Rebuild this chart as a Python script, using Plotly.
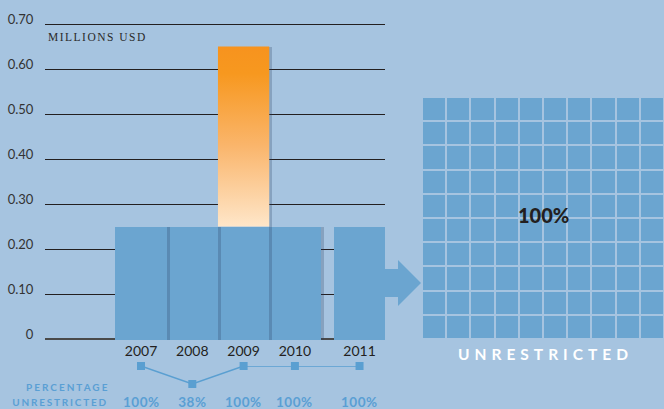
import plotly.graph_objects as go

# ---------------- data ----------------
years = ["2007", "2008", "2009", "2010", "2011"]
base_funding = [0.25, 0.25, 0.25, 0.25, 0.25]          # millions USD (blue)
extra_funding = [0.0, 0.0, 0.40, 0.0, 0.0]            # millions USD (orange, stacked)
pct_unrestricted = [100, 38, 100, 100, 100]
y_tick_vals = [0, 0.1, 0.2, 0.3, 0.4, 0.5, 0.6, 0.7]
y_tick_text = ["0", "0.10", "0.20", "0.30", "0.40", "0.50", "0.60", "0.70"]
grid_label = "UNRESTRICTED"

# ---------------- style / layout constants ----------------
W, H = 664, 409
BG = "#a6c4e0"
BLUE = "#6ba5d0"
LINE_BLUE = "#5a9fd1"
DARK = "#231f20"
GAP_LAST = 0.26      # extra spacing before last year
BAR_W = 1.0
SHADOW_W = 0.06
Y_PAD = 0.01
PX_PER_UNIT = 450.0

def px_x(p):
    return p / W

def px_y(p):
    return 1 - p / H

n = len(years)
xpos = [i + (GAP_LAST if i == n - 1 else 0) for i in range(n)]
totals = [b + e for b, e in zip(base_funding, extra_funding)]

fig = go.Figure()

# blue bars
fig.add_trace(go.Bar(
    x=xpos, y=base_funding, width=BAR_W, marker=dict(color=BLUE, line=dict(width=0)),
    hoverinfo="skip", showlegend=False,
))

# orange stacked segments with gradient (built from the data)
for xp, b, e in zip(xpos, base_funding, extra_funding):
    if e > 0:
        l, r = xp - BAR_W / 2, xp + BAR_W / 2
        fig.add_trace(go.Scatter(
            x=[l, r, r, l, l], y=[b, b, b + e, b + e, b],
            mode="lines", line=dict(width=0), fill="toself",
            fillgradient=dict(type="vertical",
                              colorscale=[[0, "#fee6c9"], [0.45, "#fab56b"], [0.85, "#f7981f"], [1, "#f7931e"]]),
            hoverinfo="skip", showlegend=False,
        ))

# drop shadows on right edge
shadow_colors = ["rgba(40,60,90,0.25)"] * (n - 1) + ["rgba(0,0,0,0)"]
fig.add_trace(go.Bar(
    x=xpos, y=totals, width=SHADOW_W, offset=BAR_W / 2,
    marker=dict(color=shadow_colors, line=dict(width=0)),
    hoverinfo="skip", showlegend=False,
))

# percentage unrestricted line
fig.add_trace(go.Scatter(
    x=xpos, y=pct_unrestricted, xaxis="x", yaxis="y2",
    mode="lines+markers", line=dict(color=LINE_BLUE, width=1.5),
    marker=dict(symbol="square", size=8, color=LINE_BLUE),
    cliponaxis=False, hoverinfo="skip", showlegend=False,
))

# 10x10 grid of unrestricted share (from last year's percentage)
cells_filled = pct_unrestricted[-1]
z = [[1 if (r * 10 + c) < cells_filled else 0 for c in range(10)] for r in range(10)]
fig.add_trace(go.Heatmap(
    z=z, xaxis="x3", yaxis="y3", colorscale=[[0, BG], [1, BLUE]], zmin=0, zmax=1,
    xgap=2, ygap=2, showscale=False, hoverinfo="skip",
))

annotations = []
# percent labels
for xp, p in zip(xpos, pct_unrestricted):
    annotations.append(dict(
        x=xp, y=px_y(402), xref="x", yref="paper", text=f"{p}%", showarrow=False,
        font=dict(family="Lato", size=13.5, color="#5a9fd4", weight="bold"),
        xanchor="center", yanchor="middle",
    ))
annotations.append(dict(
    x=px_x(102), y=px_y(387), xref="paper", yref="paper", text="PERCENTAGE", showarrow=False,
    font=dict(family="Lato", size=10, color="#5a9fd4", weight="bold"),
    xanchor="right", yanchor="middle",
))
annotations.append(dict(
    x=px_x(100), y=px_y(402), xref="paper", yref="paper", text="UNRESTRICTED", showarrow=False,
    font=dict(family="Lato", size=10, color="#5a9fd4", weight="bold"),
    xanchor="right", yanchor="middle",
))
annotations.append(dict(
    x=px_x(55), y=px_y(37), xref="paper", yref="paper", text="MILLIONS USD", showarrow=False,
    font=dict(family="Liberation Serif", size=11.5, color="#2a2a2a"),
    xanchor="left", yanchor="middle",
))
annotations.append(dict(
    x=4.5, y=4.5, xref="x3", yref="y3", text=f"{cells_filled}%", showarrow=False,
    font=dict(family="Lato", size=20, color=DARK, weight=900),
    xanchor="center", yanchor="middle", yshift=3,
))
annotations.append(dict(
    x=4.5, y=px_y(354), xref="x3", yref="paper", text=grid_label, showarrow=False,
    font=dict(family="Lato", size=15.5, color="white", weight="bold"),
    xanchor="center", yanchor="middle", xshift=2,
))

# arrow from bars to grid
pts = [(385, 269), (398, 269), (398, 260), (421, 283), (398, 306), (398, 297), (385, 297)]
path = "M " + " L ".join(f"{px_x(a):.5f},{px_y(b):.5f}" for a, b in pts) + " Z"
shapes = [dict(type="path", path=path, xref="paper", yref="paper",
               fillcolor=BLUE, line=dict(width=0), layer="above")]

x_unit = 51.3
x0 = -(141 - 45) / x_unit
x1 = x0 + (385 - 45) / x_unit

y_bottom_px = 339 + Y_PAD * PX_PER_UNIT
y_top_px = 24 - Y_PAD * PX_PER_UNIT

fig.update_layout(
    width=W, height=H, autosize=False,
    margin=dict(l=0, r=0, t=0, b=0, pad=0, autoexpand=False),
    paper_bgcolor=BG, plot_bgcolor="rgba(0,0,0,0)",
    barmode="overlay", bargap=0,
    showlegend=False,
    font=dict(family="Lato", color=DARK),
    xaxis=dict(domain=[px_x(45), px_x(385)], range=[x0, x1], automargin=False,
               tickvals=xpos, ticktext=years, showgrid=False, zeroline=False, showline=False,
               ticks="", ticklabelstandoff=-3,
               tickfont=dict(family="Lato", size=14, color=DARK), fixedrange=True),
    yaxis=dict(domain=[1 - y_bottom_px / H, 1 - y_top_px / H], range=[-Y_PAD, 0.7 + Y_PAD],
               automargin=False,
               tickvals=y_tick_vals, ticktext=y_tick_text,
               showgrid=True, gridcolor=DARK, gridwidth=1.2,
               zeroline=True, zerolinecolor="#4a4a4a", zerolinewidth=1.8,
               showline=False, ticks="outside", ticklen=8, tickcolor="rgba(0,0,0,0)",
               ticklabelshift=-5,
               tickfont=dict(family="Lato", size=13, color="#333333"), fixedrange=True),
    yaxis2=dict(domain=[1 - 395 / H, 1 - 366 / H], range=[0, 100], anchor="x", automargin=False,
                showgrid=False, zeroline=False, showticklabels=False, showline=False),
    xaxis3=dict(domain=[px_x(422), 1.0], range=[-0.5, 9.5], anchor="y3", automargin=False,
                showgrid=False, zeroline=False, showticklabels=False, showline=False),
    yaxis3=dict(domain=[1 - 339 / H, 1 - 97 / H], range=[-0.5, 9.5], anchor="x3", automargin=False,
                showgrid=False, zeroline=False, showticklabels=False, showline=False),
    annotations=annotations,
    shapes=shapes,
)

post = """
document.documentElement.style.margin = '0';
document.body.style.margin = '0';
document.body.style.overflow = 'hidden';
function applySpacing(){
  var gd = document.getElementById('{plot_id}');
  var sp = {%s};
  gd.querySelectorAll('g.annotation').forEach(function(g){
    var i = g.getAttribute('data-index');
    if (sp[i] !== undefined) {
      g.querySelectorAll('text').forEach(function(t){ t.style.letterSpacing = sp[i]; });
    }
  });
}
applySpacing();
setTimeout(applySpacing, 50);
"""
spacing = {n: "2px", n + 1: "1.8px", n + 2: "1.5px", n + 4: "5px"}
for i in range(n):
    spacing[i] = "0.5px"
post = post.replace("%s", ",".join(f"'{k}':'{v}'" for k, v in spacing.items()))

fig.write_html("out.html", post_script=post, config={"displayModeBar": False})
